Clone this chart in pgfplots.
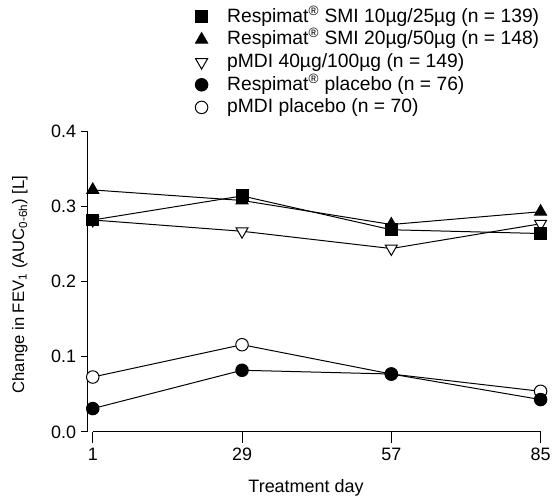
\documentclass[border=0pt]{standalone}
\usepackage{fontspec}
\setmainfont{Liberation Sans}
\usepackage{pgfplots}
\pgfplotsset{compat=1.18}

\begin{document}
\begin{tikzpicture}[x=0.75pt,y=0.75pt]
\begin{axis}[
    name=ax,
    scale only axis,
    width=340.5pt, height=226pt,
    xmin=0.065, xmax=85,
    ymin=0, ymax=0.4,
    clip=false,
    axis line style={draw=none},
    tick label style={font=\fontsize{13.5}{15}\selectfont},
    xticklabel style={yshift=-3.5pt},
    xtick={1,29,57,85},
    ytick={0,0.1,0.2,0.3,0.4},
    xtick pos=bottom, ytick pos=left,
    tick align=outside,
    major tick length=5.25pt,
    xtick style={/pgfplots/major tick length=8.25pt, black, line width=0.75pt},
    ytick style={black, line width=0.75pt},
    yticklabel style={/pgf/number format/.cd, fixed, fixed zerofill, precision=1},
    /pgf/number format/assume math mode=true,
    xlabel={Treatment day},
    xlabel style={font=\fontsize{13.5}{15}\selectfont, at={(axis description cs:0.482,-0.185)}, anchor=center},
    ylabel={Change in FEV\textsubscript{1} (AUC\textsubscript{0-6h}) [L]},
    ylabel style={font=\fontsize{12.5}{14}\selectfont, at={(axis description cs:-0.150,0.49)}, anchor=center},
    legend style={at={(0.237,1.419)}, anchor=north west, draw=none, fill=none,
        inner sep=0pt, row sep=0pt, font=\fontsize{14.5}{16}\selectfont,
        nodes={inner sep=0pt, text height=12.5pt, text depth=4.5pt},
        /tikz/every odd column/.append style={column sep=14.5pt}},
    legend cell align=left,
    every axis plot/.append style={black, line width=0.75pt},
]
\draw[line width=0.75pt] (axis cs:1,0) -- (axis cs:85,0);
\draw[line width=0.75pt] (axis cs:0.065,0) -- (axis cs:0.065,0.4);

\addlegendimage{only marks, mark=square*, mark size=4.5pt, black}
\addlegendentry{Respimat\textsuperscript{®} SMI 10µg/25µg (n = 139)}
\addlegendimage{only marks, mark=triangle*, mark size=5.2pt, black}
\addlegendentry{Respimat\textsuperscript{®} SMI 20µg/50µg (n = 148)}
\addlegendimage{only marks, mark=triangle*, mark size=5.2pt, black, mark options={rotate=180, fill=white}}
\addlegendentry{pMDI 40µg/100µg (n = 149)}
\addlegendimage{only marks, mark=*, mark size=4.7pt, black}
\addlegendentry{Respimat\textsuperscript{®} placebo (n = 76)}
\addlegendimage{only marks, mark=*, mark size=4.7pt, black, mark options={fill=white}}
\addlegendentry{pMDI placebo (n = 70)}

% pMDI placebo
\addplot[forget plot, mark=*, mark size=4.7pt, mark options={fill=white}] coordinates {
    (1,0.073) (29,0.116) (57,0.077) (85,0.054)};
% Respimat placebo
\addplot[forget plot, mark=*, mark size=4.7pt, mark options={fill=black}] coordinates {
    (1,0.031) (29,0.082) (57,0.077) (85,0.043)};
% pMDI 40/100
\addplot[forget plot, mark=triangle*, mark size=5.2pt, mark options={rotate=180, fill=white}] coordinates {
    (1,0.282) (29,0.267) (57,0.244) (85,0.277)};
% Respimat 20/50
\addplot[forget plot, mark=triangle*, mark size=5.2pt, mark options={fill=black}] coordinates {
    (1,0.322) (29,0.308) (57,0.276) (85,0.293)};
% Respimat 10/25
\addplot[forget plot, mark=square*, mark size=4.5pt, mark options={fill=black}] coordinates {
    (1,0.282) (29,0.314) (57,0.269) (85,0.264)};
\end{axis}
\path (ax.south west) ++(-66pt,-46.5pt) rectangle ++(416.25pt,371.25pt);
\end{tikzpicture}
\end{document}
